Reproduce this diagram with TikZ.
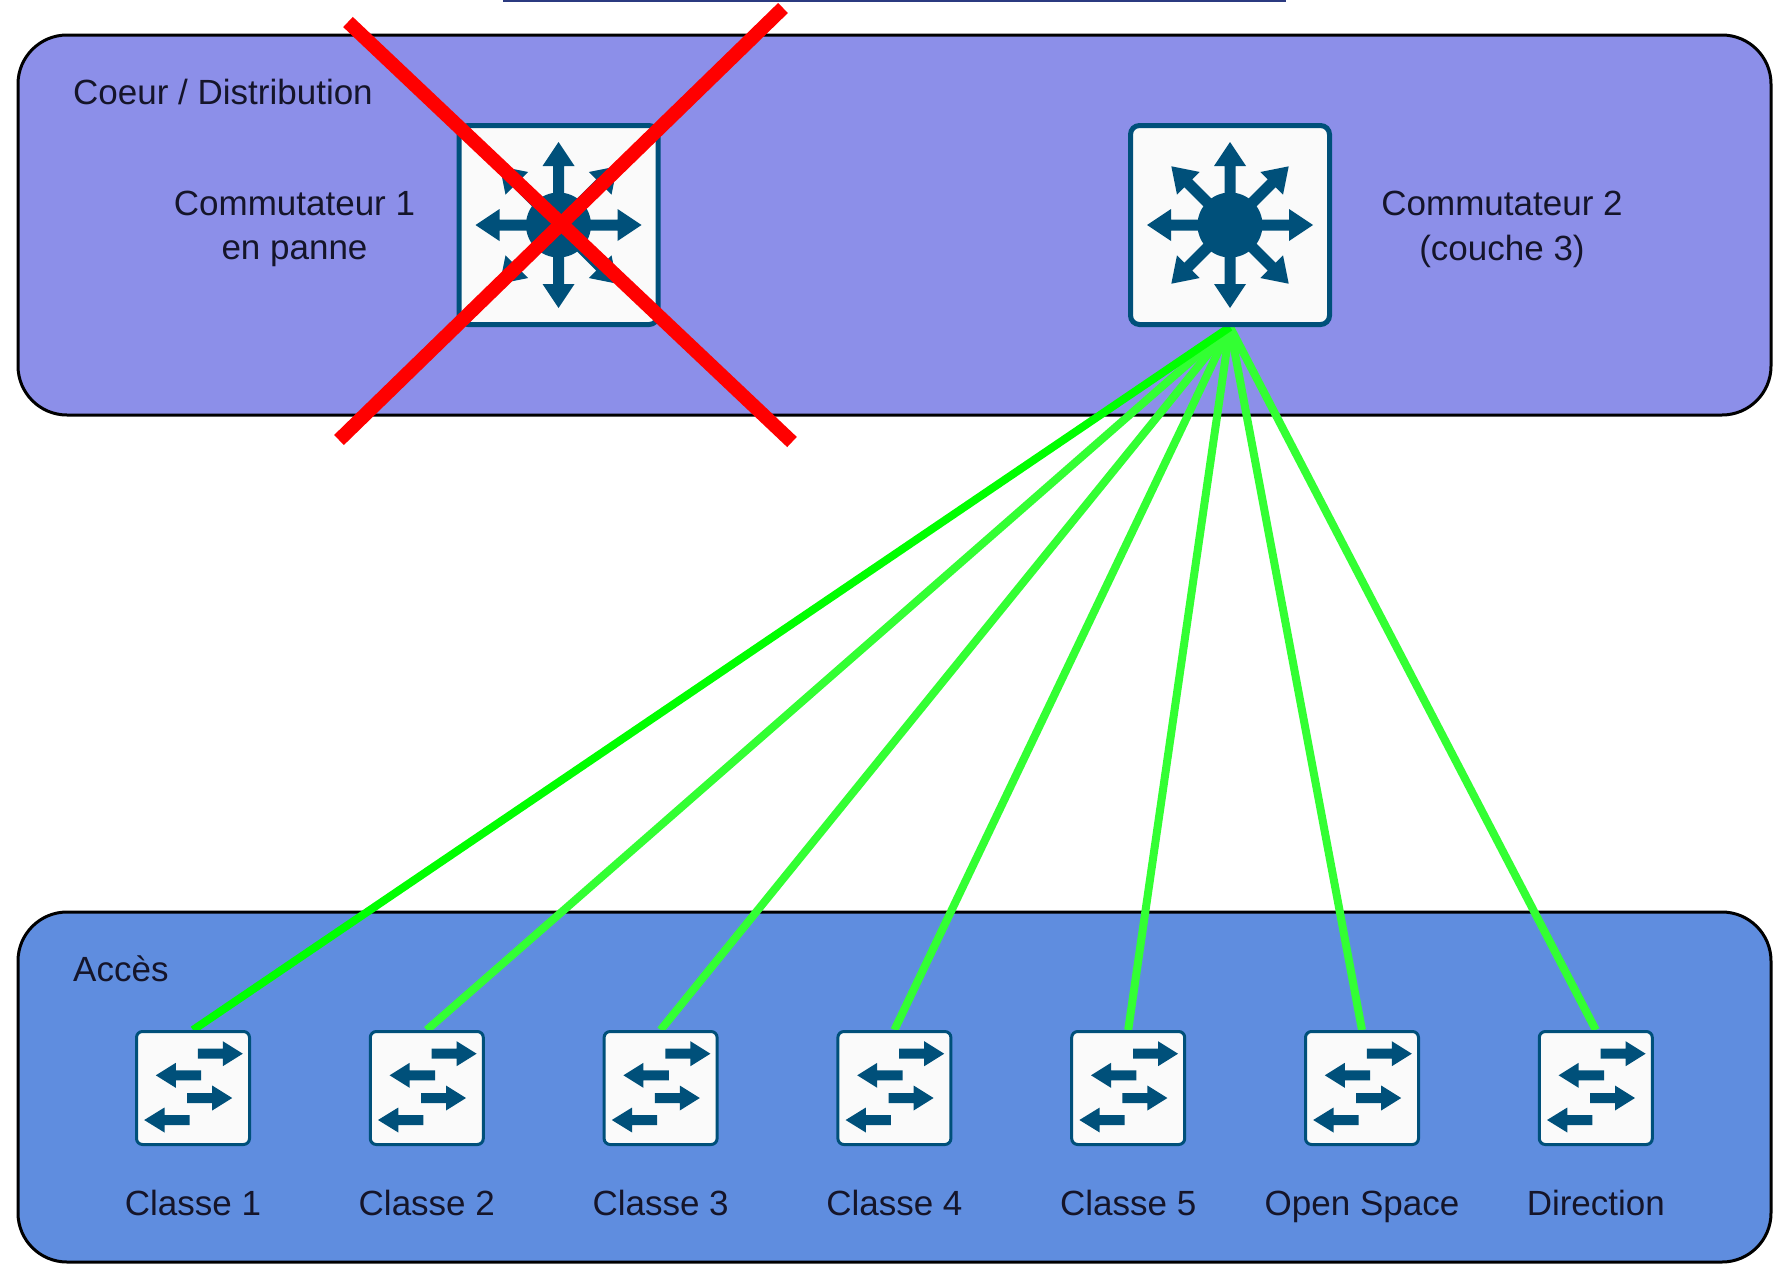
\documentclass[tikz,border=0pt]{standalone}
\usepackage{fontspec}
\setmainfont{Liberation Sans}
\usetikzlibrary{backgrounds}

\definecolor{coreblue}{HTML}{8C8FE9}
\definecolor{accessblue}{HTML}{5F8DDF}
\definecolor{iconblue}{HTML}{00507A}
\definecolor{iconwhite}{HTML}{FAFAFA}
\definecolor{linkgreen}{HTML}{33FF33}
\definecolor{textdark}{HTML}{15152A}
\definecolor{titlerule}{HTML}{2B3A80}

\tikzset{
    panel/.style={rectangle, draw=black, line width=3pt, rounded corners=49pt, minimum width=1753pt, inner sep=0pt},
    corebox/.style={rectangle, draw=iconblue, fill=iconwhite, line width=5pt, rounded corners=9pt, minimum size=199pt, inner sep=0pt},
    accessbox/.style={rectangle, draw=iconblue, fill=iconwhite, line width=3pt, rounded corners=6pt, minimum size=113pt, inner sep=0pt},
    label/.style={text=textdark, inner sep=0pt, align=center, font=\fontsize{35}{44.8}\selectfont},
    link/.style={line width=8pt},
    cross/.style={red, line width=14pt},
    arrowcore/.pic={
        \fill[iconblue] (0,0) circle (32.5);
        \foreach \a in {0,45,...,315} {
            \fill[iconblue, rotate=\a] (0,-5.5) -- (59,-5.5) -- (59,-16) -- (83,0) -- (59,16) -- (59,5.5) -- (0,5.5) -- cycle;
        }
    },
    arrowaccess/.pic={
        \foreach \s/\b/\t/\h in {4.8/29.8/49.8/-34.3, 8.2/-17.2/-37.2/-12.7, -5.8/19.2/39.2/10, -3.5/-28.5/-48.8/32} {
            \fill[iconblue] (\s,\h-5) -- (\b,\h-5) -- (\b,\h-12.5) -- (\t,\h) -- (\b,\h+12.5) -- (\b,\h+5) -- (\s,\h+5) -- cycle;
        }
    }
}

\begin{document}
\begin{tikzpicture}[x=1pt, y=-1pt]
    \useasboundingbox (0,0) rectangle (1786,1264);

    \begin{scope}[on background layer]
        \node[panel, fill=coreblue, minimum height=380pt] (core) at (894.5,225) {};
        \node[panel, fill=accessblue, minimum height=350pt] (access) at (894.5,1087) {};
    \end{scope}

    \coordinate (rule1) at (503,0.5);
    \coordinate (rule2) at (1286,0.5);
    \draw[titlerule, line width=2pt] (rule1) -- (rule2);

    \node[label, anchor=base west] (corelabel) at (73,104) {Coeur / Distribution};
    \node[label, anchor=base west] (accesslabel) at (73,981) {Accès};

    % switches of the core
    \node[corebox] (sw1) at (558.5,225) {};
    \node[corebox] (sw2) at (1230,225) {};
    \pic at (sw1.center) {arrowcore};
    \pic at (sw2.center) {arrowcore};
    \node[label] (sw1label) at (294.5,229) {Commutateur 1\\en panne};
    \node[label] (sw2label) at (1502,229) {Commutateur 2\\(couche 3)};

    % switches of the access
    \foreach \i/\name [evaluate=\i as \xpos using {193+233.8*(\i-1)}] in {1/Classe 1, 2/Classe 2, 3/Classe 3, 4/Classe 4, 5/Classe 5, 6/Open Space, 7/Direction} {
        \node[accessbox] (acc\i) at (\xpos,1088) {};
        \pic at (acc\i.center) {arrowaccess};
        \node[label, anchor=base] (acc\i label) at (\xpos,1215) {\name};
    }

    \begin{scope}[on background layer]
        \foreach \i in {7,6,...,2} {
            \draw[link, linkgreen] (sw2.south) -- (acc\i.north);
        }
        \draw[link, green] (sw2.south) -- (acc1.north);
    \end{scope}

    % failed switch
    \coordinate (cross1) at (348,22);
    \coordinate (cross2) at (792,442);
    \coordinate (cross3) at (783,8);
    \coordinate (cross4) at (339,440);
    \draw[cross] (cross1) -- (cross2);
    \draw[cross] (cross3) -- (cross4);
\end{tikzpicture}
\end{document}
